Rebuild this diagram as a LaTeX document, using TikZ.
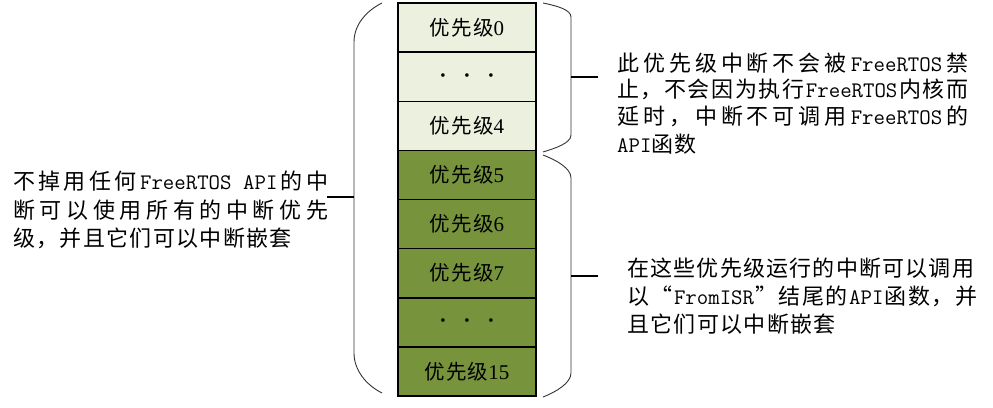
\documentclass[tikz,border=0pt]{standalone}
\usepackage{fontspec}
\setmainfont{Liberation Serif}
\newfontfamily\cjkf[LetterSpace=6]{Noto Sans CJK SC}
\newcommand\hw[1]{{\ttfamily\fontsize{22.2}{28}\selectfont #1}}
\newcommand\jl[2]{\makebox[#1][s]{\spaceskip=0pt plus 1fil\relax #2}}
\definecolor{lightg}{HTML}{EBF1DE}
\definecolor{darkg}{HTML}{77933C}
\begin{document}
\begin{tikzpicture}[x=1pt,y=-1pt,
  pbox/.style={draw=black, line width=1.5pt, minimum width=138pt, minimum height=49.1pt, inner sep=0pt,
    font=\cjkf\fontsize{20.5}{24}\selectfont},
  lbox/.style={pbox, fill=lightg},
  dbox/.style={pbox, fill=darkg},
  txt/.style={anchor=base west, inner sep=0pt, font=\cjkf\fontsize{22}{28}\selectfont},
  bracestyle/.style={draw=black!80, line width=0.9pt},
  tick/.style={draw=black, line width=1.6pt}]
\useasboundingbox (0,0) rectangle (993,407);
\newcommand\dg[1]{{\rmfamily\fontsize{21}{24}\selectfont #1}}
\newcommand\dts{{\rmfamily\fontsize{15}{18}\selectfont •\hspace{18.7pt}•\hspace{18.7pt}•}}
% priority boxes
\node[lbox] (p0) at (467,27.6) {优先级\dg{0}};
\node[lbox] (pd1) at (467,76.7) {\dts};
\node[lbox] (p4) at (467,125.8) {优先级\dg{4}};
\node[dbox] (p5) at (467,174.9) {优先级\dg{5}};
\node[dbox] (p6) at (467,224.1) {优先级\dg{6}};
\node[dbox] (p7) at (467,273.2) {优先级\dg{7}};
\node[dbox] (pd2) at (467,322.3) {\dts};
\node[dbox] (p15) at (467,371.4) {优先级\dg{15}};
% braces
\draw[bracestyle] (382,3) .. controls (366,11) and (354,25) .. (354,42) -- (354,353) .. controls (354,370) and (366,385) .. (382,393);
\draw[bracestyle] (543,3) .. controls (558,6) and (571,10) .. (571,17) -- (571,135) .. controls (571,143) and (556,148) .. (543,152);
\draw[bracestyle] (543,155) .. controls (556,160) and (571,168) .. (571,178) -- (571,373) .. controls (571,383) and (556,392) .. (543,397);
% ticks
\coordinate (lbm) at (354,197);
\coordinate (lbt) at (327,197);
\coordinate (rtm) at (571,77);
\coordinate (rtt) at (598,77);
\coordinate (rbm) at (571,276);
\coordinate (rbt) at (598,276);
\draw[tick] (lbm) -- (lbt);
\draw[tick] (rtm) -- (rtt);
\draw[tick] (rbm) -- (rbt);
% left text
\node[txt] (l1) at (13,189.5) {\jl{315pt}{不 掉 用 任 何 \hw{FreeRTOS}\hspace{11.6pt}\hw{API} 的 中}};
\node[txt] (l2) at (13,218.5) {\jl{315pt}{断 可 以 使 用 所 有 的 中 断 优 先}};
\node[txt] (l3) at (13,246) {级，并且它们可以中断嵌套};
% right top text
\node[txt] (a1) at (617,71) {\jl{351pt}{此 优 先 级 中 断 不 会 被 \hw{FreeRTOS} 禁}};
\node[txt] (a2) at (617,97.5) {\jl{351pt}{止 ， 不 会 因 为 执 行 \hw{FreeRTOS} 内 核 而}};
\node[txt] (a3) at (617,124.5) {\jl{351pt}{延 时 ， 中 断 不 可 调 用 \hw{FreeRTOS} 的}};
\node[txt] (a4) at (617,152) {\hw{API}函数};
% right bottom text
\node[txt] (b1) at (627,276.5) {\jl{347pt}{在 这 些 优 先 级 运 行 的 中 断 可 以 调 用}};
\node[txt] (b2) at (627,304) {\jl{350pt}{以 “ \hw{FromISR} ” 结 尾 的 \hw{API} 函 数 ， 并}};
\node[txt] (b3) at (627,332) {且它们可以中断嵌套};
\end{tikzpicture}
\end{document}
